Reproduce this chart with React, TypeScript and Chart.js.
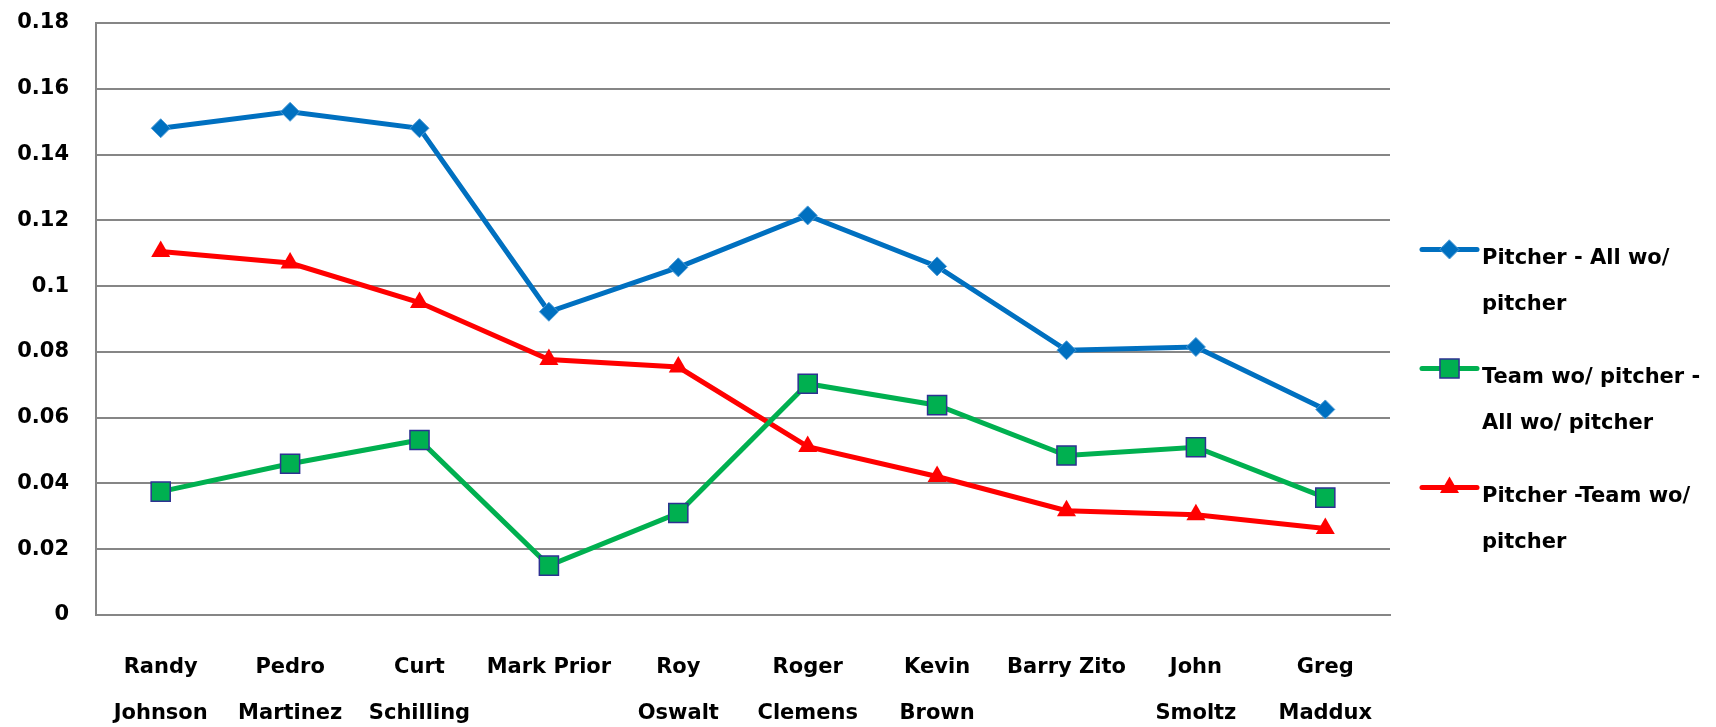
import React, { useEffect, useRef } from 'react';
import { Chart, registerables } from 'chart.js';

Chart.register(...registerables);

// Pitchers along the x axis (two-line labels where the name wraps)
const pitchers: string[][] = [
  ['Randy', 'Johnson'],
  ['Pedro', 'Martinez'],
  ['Curt', 'Schilling'],
  ['Mark Prior'],
  ['Roy', 'Oswalt'],
  ['Roger', 'Clemens'],
  ['Kevin', 'Brown'],
  ['Barry Zito'],
  ['John', 'Smoltz'],
  ['Greg', 'Maddux'],
];

// Series values
const pitcherMinusAll = [0.148, 0.153, 0.148, 0.0922, 0.1057, 0.1215, 0.106, 0.0805, 0.0815, 0.0625];
const teamMinusAll = [0.0375, 0.046, 0.0532, 0.015, 0.031, 0.0703, 0.0638, 0.0485, 0.051, 0.0357];
const pitcherMinusTeam = [0.1105, 0.107, 0.095, 0.0777, 0.0754, 0.0512, 0.0421, 0.0317, 0.0305, 0.0263];

const seriesNames = [
  'Pitcher - All wo/ pitcher',
  'Team wo/ pitcher - All wo/ pitcher',
  'Pitcher -Team wo/ pitcher',
];
const legendLines: string[][] = [
  ['Pitcher - All wo/', 'pitcher'],
  ['Team wo/ pitcher -', 'All wo/ pitcher'],
  ['Pitcher -Team wo/', 'pitcher'],
];

// Value axis
const yMin = 0;
const yMax = 0.18;
const yStep = 0.02;

const FONT = 'DejaVu Sans';
const GRID = '#868686';
const BLUE = '#0070C0';
const GREEN = '#00B050';
const RED = '#FF0000';
const NAVY = '#2E3192';

const CANVAS_W = 1700;
const CANVAS_H = 719;

function drawMarker(ctx: CanvasRenderingContext2D, style: string, x: number, y: number, r: number,
  fill: string, stroke: string, lw: number) {
  ctx.save();
  ctx.fillStyle = fill;
  ctx.strokeStyle = stroke;
  ctx.lineWidth = lw;
  ctx.beginPath();
  if (style === 'rectRot') {
    ctx.moveTo(x, y - r);
    ctx.lineTo(x + r, y);
    ctx.lineTo(x, y + r);
    ctx.lineTo(x - r, y);
    ctx.closePath();
  } else if (style === 'rect') {
    const s = r * Math.SQRT1_2;
    ctx.rect(x - s, y - s, 2 * s, 2 * s);
  } else {
    const h = r * Math.cos(Math.PI / 6);
    ctx.moveTo(x, y - r);
    ctx.lineTo(x + h, y + r / 2);
    ctx.lineTo(x - h, y + r / 2);
    ctx.closePath();
  }
  ctx.fill();
  if (lw > 0) ctx.stroke();
  ctx.restore();
}

// Two-line legend on the right of the plot
const sideLegend = {
  id: 'sideLegend',
  afterDraw(chart: any) {
    const ctx: CanvasRenderingContext2D = chart.ctx;
    const area = chart.chartArea;
    const lineX0 = area.right + 32;
    const lineX1 = lineX0 + 55;
    const textX = lineX1 + 5;
    const firstBaseline = 256;
    const itemGap = 119;
    const lineGap = 46;
    ctx.save();
    chart.data.datasets.forEach((ds: any, i: number) => {
      const base = firstBaseline + i * itemGap;
      const ly = base - 14.5;
      ctx.strokeStyle = ds.borderColor;
      ctx.lineWidth = ds.borderWidth;
      ctx.lineCap = 'round';
      ctx.beginPath();
      ctx.moveTo(lineX0, ly);
      ctx.lineTo(lineX1, ly);
      ctx.stroke();
      drawMarker(ctx, ds.pointStyle, (lineX0 + lineX1) / 2, ly, ds.pointRadius,
        ds.pointBackgroundColor, ds.pointBorderColor, ds.pointBorderWidth);
      ctx.fillStyle = '#000';
      ctx.font = `bold 21px "${FONT}"`;
      ctx.textAlign = 'left';
      ctx.textBaseline = 'alphabetic';
      legendLines[i].forEach((t, j) => ctx.fillText(t, textX, base + j * lineGap));
    });
    ctx.restore();
  },
};

export default function App() {
  const ref = useRef<HTMLCanvasElement | null>(null);

  useEffect(() => {
    if (!ref.current) return;
    const chart = new Chart(ref.current, {
      type: 'line',
      data: {
        labels: pitchers,
        datasets: [
          {
            label: seriesNames[0],
            data: pitcherMinusAll,
            borderColor: BLUE,
            backgroundColor: BLUE,
            borderWidth: 5,
            pointStyle: 'rectRot',
            pointRadius: 9.5,
            pointBackgroundColor: BLUE,
            pointBorderColor: '#4a9ad6',
            pointBorderWidth: 1,
            tension: 0,
          },
          {
            label: seriesNames[1],
            data: teamMinusAll,
            borderColor: GREEN,
            backgroundColor: GREEN,
            borderWidth: 5,
            pointStyle: 'rect',
            pointRadius: 13.5,
            pointBackgroundColor: GREEN,
            pointBorderColor: NAVY,
            pointBorderWidth: 1.5,
            tension: 0,
          },
          {
            label: seriesNames[2],
            data: pitcherMinusTeam,
            borderColor: RED,
            backgroundColor: RED,
            borderWidth: 5,
            pointStyle: 'triangle',
            pointRadius: 11,
            pointBackgroundColor: RED,
            pointBorderColor: RED,
            pointBorderWidth: 0,
            tension: 0,
          },
        ],
      },
      options: {
        responsive: false,
        animation: false,
        devicePixelRatio: 1,
        layout: { padding: { top: 13, right: 318, left: 0, bottom: 0 } },
        plugins: {
          legend: { display: false },
          tooltip: { enabled: false },
        },
        scales: {
          x: {
            offset: true,
            grid: { display: false, drawTicks: false },
            border: { display: true, color: GRID, width: 2 },
            ticks: {
              color: '#000',
              padding: 30,
              maxRotation: 0,
              autoSkip: false,
              font: { family: FONT, size: 21, weight: 'bold', lineHeight: 46 / 21 },
            },
            afterFit: (scale: any) => { scale.height = 112; },
          },
          y: {
            min: yMin,
            max: yMax,
            grid: { color: GRID, lineWidth: 2, drawTicks: false },
            border: { display: true, color: GRID, width: 2 },
            ticks: {
              stepSize: yStep,
              color: '#000',
              padding: 27,
              font: { family: FONT, size: 21, weight: 'bold' },
              callback: (v: any) => String(Math.round(Number(v) * 100) / 100),
            },
            afterFit: (scale: any) => {
              scale.width = 88;
              scale.paddingTop = 0;
              scale.paddingBottom = 0;
            },
          },
        },
      },
      plugins: [sideLegend],
    });
    return () => chart.destroy();
  }, []);

  // Placed at the body's 8px offset but taken out of flow, so the canvas can
  // reach the bottom edge of the window without making the page scroll
  return (
    <div style={{ position: 'absolute', left: 8, top: 8, width: CANVAS_W, height: CANVAS_H }}>
      <canvas ref={ref} width={CANVAS_W} height={CANVAS_H} style={{ display: 'block' }} />
    </div>
  );
}
